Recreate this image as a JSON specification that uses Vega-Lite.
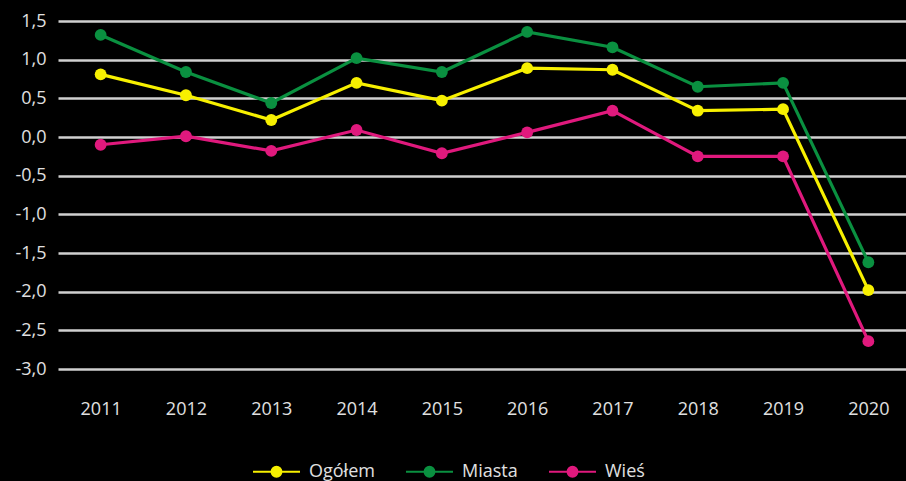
{
  "$schema": "https://vega.github.io/schema/vega-lite/v6.json",
  "width": 853,
  "height": 348,
  "autosize": {"type": "none"},
  "padding": {"left": 58, "top": 21, "right": -5, "bottom": 112},
  "background": "#000000",
  "config": {
    "view": {"stroke": null},
    "font": "Open Sans"
  },
  "data": {
    "values": [
      {"rok": "2011", "seria": "Ogółem", "wartosc": 0.81},
      {"rok": "2012", "seria": "Ogółem", "wartosc": 0.54},
      {"rok": "2013", "seria": "Ogółem", "wartosc": 0.22},
      {"rok": "2014", "seria": "Ogółem", "wartosc": 0.70},
      {"rok": "2015", "seria": "Ogółem", "wartosc": 0.47},
      {"rok": "2016", "seria": "Ogółem", "wartosc": 0.89},
      {"rok": "2017", "seria": "Ogółem", "wartosc": 0.87},
      {"rok": "2018", "seria": "Ogółem", "wartosc": 0.34},
      {"rok": "2019", "seria": "Ogółem", "wartosc": 0.36},
      {"rok": "2020", "seria": "Ogółem", "wartosc": -1.98},
      {"rok": "2011", "seria": "Miasta", "wartosc": 1.32},
      {"rok": "2012", "seria": "Miasta", "wartosc": 0.84},
      {"rok": "2013", "seria": "Miasta", "wartosc": 0.44},
      {"rok": "2014", "seria": "Miasta", "wartosc": 1.02},
      {"rok": "2015", "seria": "Miasta", "wartosc": 0.84},
      {"rok": "2016", "seria": "Miasta", "wartosc": 1.36},
      {"rok": "2017", "seria": "Miasta", "wartosc": 1.16},
      {"rok": "2018", "seria": "Miasta", "wartosc": 0.65},
      {"rok": "2019", "seria": "Miasta", "wartosc": 0.70},
      {"rok": "2020", "seria": "Miasta", "wartosc": -1.62},
      {"rok": "2011", "seria": "Wieś", "wartosc": -0.10},
      {"rok": "2012", "seria": "Wieś", "wartosc": 0.01},
      {"rok": "2013", "seria": "Wieś", "wartosc": -0.18},
      {"rok": "2014", "seria": "Wieś", "wartosc": 0.09},
      {"rok": "2015", "seria": "Wieś", "wartosc": -0.21},
      {"rok": "2016", "seria": "Wieś", "wartosc": 0.06},
      {"rok": "2017", "seria": "Wieś", "wartosc": 0.34},
      {"rok": "2018", "seria": "Wieś", "wartosc": -0.25},
      {"rok": "2019", "seria": "Wieś", "wartosc": -0.25},
      {"rok": "2020", "seria": "Wieś", "wartosc": -2.64}
    ]
  },
  "mark": {"type": "line", "strokeWidth": 3.2, "point": {"filled": true, "size": 140, "opacity": 1}},
  "encoding": {
    "x": {
      "field": "rok",
      "type": "ordinal",
      "scale": {"type": "point", "padding": 0.5},
      "axis": {
        "title": null,
        "labelAngle": 0,
        "domain": false,
        "ticks": false,
        "grid": false,
        "labelColor": "#e0e0e0",
        "labelFontSize": 18,
        "labelPadding": 31
      }
    },
    "y": {
      "field": "wartosc",
      "type": "quantitative",
      "scale": {"domain": [-3, 1.5], "nice": false, "zero": false},
      "axis": {
        "title": null,
        "values": [-3, -2.5, -2, -1.5, -1, -0.5, 0, 0.5, 1, 1.5],
        "labelExpr": "replace(replace(format(datum.value, '.1f'), '.', ','), '−', '-')",
        "domain": false,
        "ticks": false,
        "grid": true,
        "gridColor": "#d0d0d0",
        "gridWidth": 2.5,
        "labelColor": "#e0e0e0",
        "labelFontSize": 18,
        "labelPadding": 12
      }
    },
    "color": {
      "field": "seria",
      "type": "nominal",
      "scale": {
        "domain": ["Ogółem", "Miasta", "Wieś"],
        "range": ["#f7f000", "#0a9040", "#e0197d"]
      },
      "legend": {
        "title": null,
        "orient": "none",
        "direction": "horizontal",
        "legendX": 194,
        "legendY": 426,
        "labelColor": "#e0e0e0",
        "labelFontSize": 18,
        "symbolType": "M-1,0H1M0.21,0A0.21,0.21,0,1,1,-0.21,0A0.21,0.21,0,1,1,0.21,0Z",
        "symbolSize": 2209,
        "symbolStrokeWidth": 2,
        "symbolOpacity": 1,
        "labelOffset": 8,
        "columnPadding": 27
      }
    }
  }
}
